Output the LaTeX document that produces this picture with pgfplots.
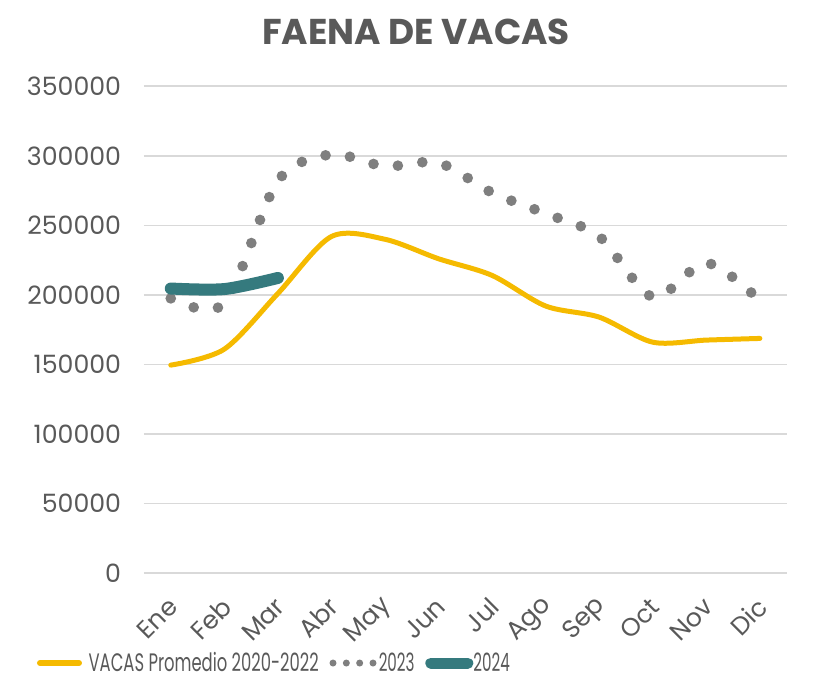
\documentclass[border=0pt]{standalone}
\usepackage{fontspec}
\setmainfont{Poppins}
\usepackage{graphicx}
\usepackage{pgfplots}
\pgfplotsset{compat=1.18}

\definecolor{promedio}{HTML}{F5BA00}
\definecolor{anio23}{HTML}{7F7F7F}
\definecolor{anio24}{HTML}{357A7E}
\definecolor{txt}{HTML}{595959}
\definecolor{grisgrid}{HTML}{D9D9D9}

\newcommand{\lbl}{\fontsize{19}{22}\selectfont}

\begin{document}
\begin{tikzpicture}
\useasboundingbox (-108bp,-83.25bp) rectangle (503.25bp,429.75bp);
\begin{axis}[
    at={(0,0)}, anchor=south west,
    scale only axis, width=482bp, height=365bp,
    xmin=-0.5, xmax=11.5, ymin=0, ymax=350000,
    xtick={0,...,11},
    xticklabels={Ene,Feb,Mar,Abr,May,Jun,Jul,Ago,Sep,Oct,Nov,Dic},
    ytick={0,50000,100000,150000,200000,250000,300000,350000},
    yticklabels={0,50000,100000,150000,200000,250000,300000,350000},
    scaled y ticks=false,
    axis line style={draw=none},
    major tick length=0pt,
    ymajorgrids, grid style={grisgrid, line width=1.3bp},
    tick label style={font=\lbl, text=txt},
    yticklabel style={anchor=east, inner sep=0pt, xshift=-17bp},
    xticklabel style={xshift=2bp, yshift=-22bp, rotate=45, anchor=east, inner sep=0pt},
    legend columns=3,
    legend style={at={(-0.1665,-0.185)}, anchor=west, draw=none, fill=none,
        inner sep=0pt, outer sep=0pt,
        font=\lbl, text=txt, column sep=0pt,
        nodes={inner sep=0pt},
        /tikz/column 1/.style={column sep=5bp},
        /tikz/column 2/.style={column sep=8bp},
        /tikz/column 3/.style={column sep=1.5bp},
        /tikz/column 4/.style={column sep=8bp},
        /tikz/column 5/.style={column sep=0bp}},
]
% promedio 2020-2022
\addplot[promedio, line width=3.75bp, line cap=round, smooth, tension=0.5,
    legend image code/.code={\draw[promedio, line width=4.5bp, line cap=round] (2.25bp,0bp) -- (31.5bp,0bp);}]
    coordinates {(0,149500)(1,161000)(2,201000)(3,242000)(4,240000)(5,226000)
                 (6,214000)(7,192000)(8,184000)(9,166000)(10,167500)(11,168700)};
\addlegendentry{\scalebox{0.65}[1]{VACAS Promedio 2020-2022}}
% 2023
\addplot[anio23, line width=8bp, line cap=round, dash pattern=on 0pt off 18.5bp, smooth, tension=0.5,
    legend image code/.code={\draw[anio23, line width=5.25bp, line cap=round, dash pattern=on 0pt off 10bp] (2.6bp,0bp) -- (32.8bp,0bp);}]
    coordinates {(0,197500)(1,194000)(2,282000)(3,301000)(4,292500)(5,295000)
                 (6,273500)(7,258500)(8,242000)(9,198500)(10,223000)(11,196000)};
\addlegendentry{\scalebox{0.6}[1]{2023}}
% 2024
\addplot[anio24, line width=9bp, line cap=round, smooth, tension=0.5,
    legend image code/.code={\draw[anio24, line width=8.25bp, line cap=round] (4.1bp,0bp) -- (31.9bp,0bp);}]
    coordinates {(0,204600)(1,204200)(2,212200)};
\addlegendentry{\scalebox{0.6}[1]{2024}}
\end{axis}
\node[font=\fontsize{27}{31}\selectfont\bfseries, text=txt, anchor=base] at (204bp,396bp) {FAENA DE VACAS};
\end{tikzpicture}
\end{document}
